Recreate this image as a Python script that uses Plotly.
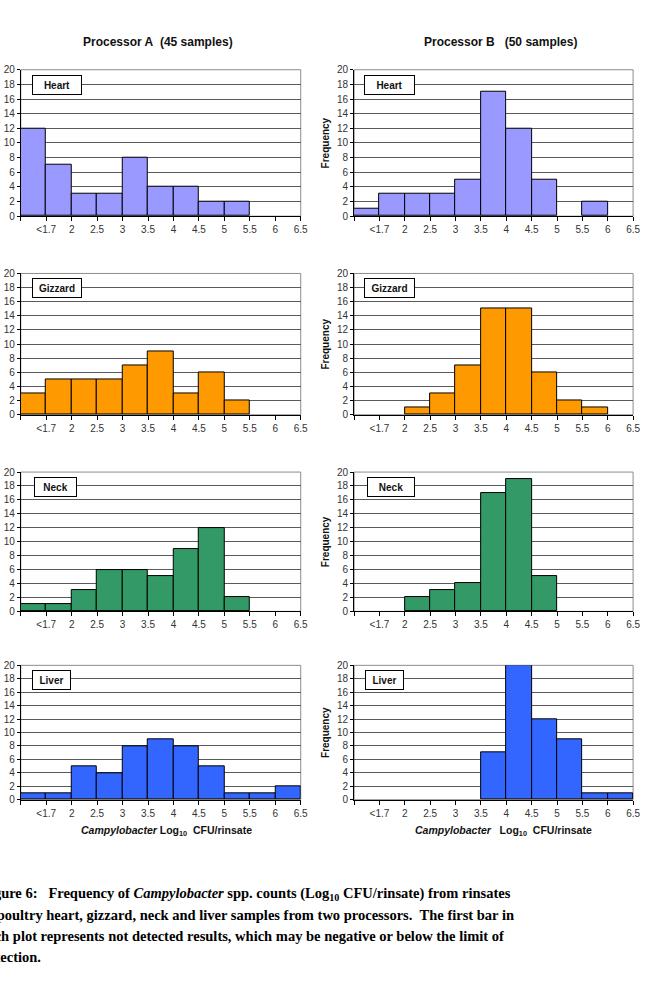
import plotly.graph_objects as go

# ---------------- data ----------------
bin_labels = ["<1.7", "2", "2.5", "3", "3.5", "4", "4.5", "5", "5.5", "6", "6.5"]
organs = ["Heart", "Gizzard", "Neck", "Liver"]

procA_heart = [12, 7, 3, 3, 8, 4, 4, 2, 2, 0, 0]
procA_gizzard = [3, 5, 5, 5, 7, 9, 3, 6, 2, 0, 0]
procA_neck = [1, 1, 3, 6, 6, 5, 9, 12, 2, 0, 0]
procA_liver = [1, 1, 5, 4, 8, 9, 8, 5, 1, 1, 2]

procB_heart = [1, 3, 3, 3, 5, 17, 12, 5, 0, 2, 0]
procB_gizzard = [0, 0, 1, 3, 7, 15, 15, 6, 2, 1, 0]
procB_neck = [0, 0, 2, 3, 4, 17, 19, 5, 0, 0, 0]
procB_liver = [0, 0, 0, 0, 0, 7, 20, 12, 9, 1, 1]

procA = [procA_heart, procA_gizzard, procA_neck, procA_liver]
procB = [procB_heart, procB_gizzard, procB_neck, procB_liver]

organ_colors = ["#9999FF", "#FF9900", "#339966", "#3366FF"]

title_A = "Processor A\u00a0\u00a0(45 samples)"
title_B = "Processor B\u00a0\u00a0\u00a0(50 samples)"

caption_lines = [
    "Figure 6:\u00a0\u00a0\u00a0Frequency of <i>Campylobacter</i> spp. counts (Log<sub>10</sub> CFU/rinsate) from rinsates",
    "of poultry heart, gizzard, neck and liver samples from two processors.\u00a0\u00a0The first bar in",
    "each plot represents not detected results, which may be negative or below the limit of",
    "detection.",
]

# ---------------- layout geometry (pixels) ----------------
W, H = 649, 1005
def px(x):
    return x / W
def py(y):
    return 1 - y / H

col_x = [(21, 304), (358, 640)]
row_y = [(64.5, 212.7), (270.7, 413.7), (471.7, 612.7), (667.3, 803.3)]
box_w = [[44, 44, 37, 33], [45, 45, 42, 33]]
box_left = [[32, 32, 34, 32], [368, 368, 371, 369]]

fig = go.Figure()
layout = dict(
    width=W, height=H,
    margin=dict(l=0, r=0, t=0, b=0),
    paper_bgcolor="white", plot_bgcolor="white",
    showlegend=False,
    font=dict(family="Liberation Sans, Arial, sans-serif", color="#222"),
    bargap=0,
)
shapes = []
annotations = []

n = 0
for c, data in enumerate([procA, procB]):
    for r in range(4):
        n += 1
        xa = "x" if n == 1 else f"x{n}"
        ya = "y" if n == 1 else f"y{n}"
        vals = data[r]
        fig.add_trace(go.Bar(
            x=[i + 0.5 for i in range(len(vals))],
            y=[v if v else None for v in vals], width=1,
            marker=dict(color=organ_colors[r], line=dict(color="black", width=1)),
            xaxis=xa, yaxis=ya, hoverinfo="skip",
        ))
        x0, x1 = col_x[c]
        y0, y1 = row_y[r]
        layout["xaxis" if n == 1 else f"xaxis{n}"] = dict(
            domain=[px(x0), px(x1)], anchor=ya, range=[0, len(bin_labels)],
            tickmode="array", tickvals=list(range(len(bin_labels) + 1)),
            ticktext=[""] + bin_labels, ticks="outside", ticklen=4,
            tickcolor="black", showline=True, linecolor="black", linewidth=1,
            showgrid=False, zeroline=False,
            tickfont=dict(size=10, color="#333"), fixedrange=True,
        )
        layout["yaxis" if n == 1 else f"yaxis{n}"] = dict(
            domain=[py(y1), py(y0)], anchor=xa, range=[0, 20],
            tickmode="linear", tick0=0, dtick=2, ticks="outside", ticklen=3,
            tickcolor="black", showline=True, linecolor="black", linewidth=1,
            showgrid=True, gridcolor="#5a5a5a", gridwidth=1, zeroline=False,
            tickfont=dict(size=10, color="#333"), fixedrange=True,
        )
        shapes.append(dict(
            type="rect", xref=f"{xa} domain", yref=f"{ya} domain",
            x0=0, x1=1, y0=0, y1=1, line=dict(color="#8c8c8c", width=1),
            layer="below",
        ))
        # organ label box
        annotations.append(dict(
            text=f"<b>{organs[r]}</b>", xref="paper", yref="paper",
            x=px(box_left[c][r]), y=py(y0 + 15), xanchor="left", yanchor="middle",
            showarrow=False, font=dict(size=10, color="#111"),
            bgcolor="white", bordercolor="black", borderwidth=1, borderpad=2,
            width=box_w[c][r], height=14, align="center",
        ))
        if c == 1:
            annotations.append(dict(
                text="<b>Frequency</b>", xref="paper", yref="paper",
                x=px(329), y=py((y0 + y1) / 2), xanchor="center", yanchor="middle",
                textangle=-90, showarrow=False, font=dict(size=10, color="#111"),
            ))

# panel titles
annotations.append(dict(text=f"<b>{title_A}</b>", xref="paper", yref="paper",
                        x=px(160), y=py(36), xanchor="center", yanchor="middle",
                        showarrow=False, font=dict(size=12, color="#111")))
annotations.append(dict(text=f"<b>{title_B}</b>", xref="paper", yref="paper",
                        x=px(506), y=py(36), xanchor="center", yanchor="middle",
                        showarrow=False, font=dict(size=12, color="#111")))

# x-axis titles
annotations.append(dict(
    text="<b><i>Campylobacter</i> Log<sub>10</sub>\u00a0\u00a0CFU/rinsate</b>",
    xref="paper", yref="paper", x=px(168), y=py(835), xanchor="center", yanchor="middle",
    showarrow=False, font=dict(size=10.5, color="#111")))
annotations.append(dict(
    text="<b><i>Campylobacter</i>\u00a0\u00a0\u00a0Log<sub>10</sub>\u00a0\u00a0CFU/rinsate</b>",
    xref="paper", yref="paper", x=px(509), y=py(835), xanchor="center", yanchor="middle",
    showarrow=False, font=dict(size=10.5, color="#111")))

# caption
for i, line in enumerate(caption_lines):
    annotations.append(dict(
        text=f"<b>{line}</b>", xref="paper", yref="paper",
        x=px(-21), y=py(899 + 21 * i), xanchor="left", yanchor="middle",
        showarrow=False, align="left",
        font=dict(family="Liberation Serif, Times New Roman, serif", size=14.5, color="black"),
    ))

layout["shapes"] = shapes
layout["annotations"] = annotations
fig.update_layout(**layout)
fig.write_html("out.html")
